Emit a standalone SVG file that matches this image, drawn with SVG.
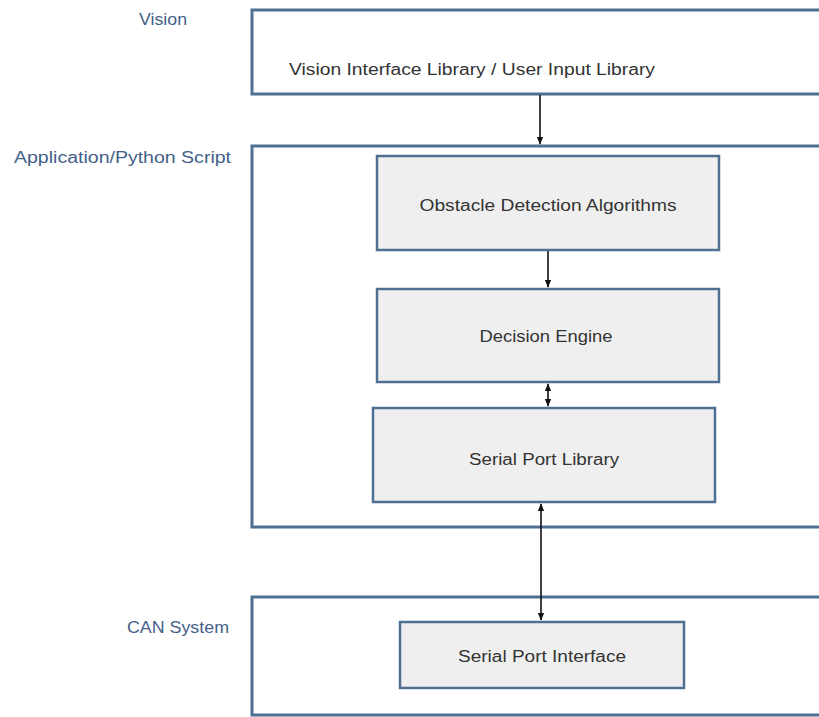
<svg xmlns="http://www.w3.org/2000/svg" width="819" height="717" viewBox="0 0 819 717">
  <style>
    .layer { fill: #ffffff; stroke: #4f6f93; stroke-width: 3; }
    .block { fill: #efefef; stroke: #4f6f93; stroke-width: 2.5; }
    .lbl { font-family: "Liberation Sans", Arial, sans-serif; font-size: 16px; fill: #44618a; }
    .txt { font-family: "Liberation Sans", Arial, sans-serif; font-size: 16px; fill: #333333; text-anchor: middle; }
    .conn { stroke: #111111; stroke-width: 1.6; fill: none; }
  </style>
  <defs>
    <marker id="ah" viewBox="0 0 10 10" refX="9" refY="5" markerWidth="5" markerHeight="5" orient="auto-start-reverse">
      <path d="M0,1 L10,5 L0,9 z" fill="#111111"/>
    </marker>
  </defs>
  <rect width="819" height="717" fill="#ffffff"/>

  <g id="vision">
    <rect class="layer" x="252" y="10" width="580" height="84"/>
    <text class="lbl" x="139" y="25" textLength="48" lengthAdjust="spacingAndGlyphs">Vision</text>
    <text class="txt" x="472" y="75" textLength="366" lengthAdjust="spacingAndGlyphs">Vision Interface Library / User Input Library</text>
  </g>

  <g id="application">
    <rect class="layer" x="252" y="146" width="580" height="381"/>
    <text class="lbl" x="14" y="163" textLength="217" lengthAdjust="spacingAndGlyphs">Application/Python Script</text>
  </g>

  <g id="obstacle-detection">
    <rect class="block" x="377" y="156" width="342" height="94"/>
    <text class="txt" x="548" y="211" textLength="257" lengthAdjust="spacingAndGlyphs">Obstacle Detection Algorithms</text>
  </g>

  <g id="decision-engine">
    <rect class="block" x="377" y="289" width="342" height="93"/>
    <text class="txt" x="546" y="342" textLength="133" lengthAdjust="spacingAndGlyphs">Decision Engine</text>
  </g>

  <g id="serial-port-library">
    <rect class="block" x="373" y="408" width="342" height="94"/>
    <text class="txt" x="544" y="465" textLength="150" lengthAdjust="spacingAndGlyphs">Serial Port Library</text>
  </g>

  <g id="can-system">
    <rect class="layer" x="252" y="597" width="580" height="118"/>
    <text class="lbl" x="127" y="633" textLength="102" lengthAdjust="spacingAndGlyphs">CAN System</text>
  </g>

  <g id="serial-port-interface">
    <rect class="block" x="400" y="622" width="284" height="66"/>
    <text class="txt" x="542" y="662" textLength="168" lengthAdjust="spacingAndGlyphs">Serial Port Interface</text>
  </g>

  <g id="connectors">
    <line class="conn" x1="540" y1="95" x2="540" y2="144" marker-end="url(#ah)"/>
    <line class="conn" x1="548" y1="251" x2="548" y2="287" marker-end="url(#ah)"/>
    <line class="conn" x1="548" y1="384" x2="548" y2="406" marker-start="url(#ah)" marker-end="url(#ah)"/>
    <line class="conn" x1="541" y1="504" x2="541" y2="620" marker-start="url(#ah)" marker-end="url(#ah)"/>
  </g>
</svg>
